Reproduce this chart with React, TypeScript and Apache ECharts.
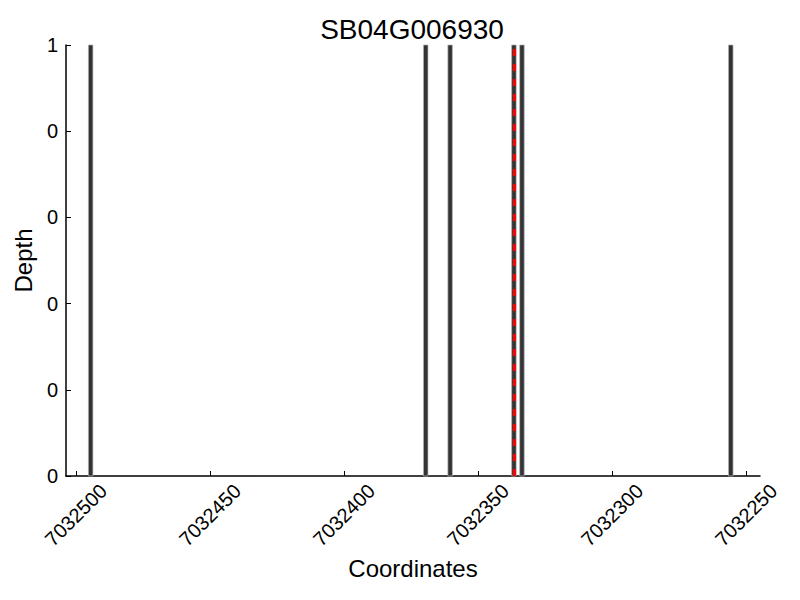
import React, { useEffect, useRef } from "react";
import * as echarts from "echarts";

const title = "SB04G006930";
const coords = [7032494.5, 7032369.5, 7032360.4, 7032336.6, 7032333.6, 7032255.7];
const depths = [1, 1, 1, 1, 1, 1];
const markerPos = 7032336.6;
const xTicks = [7032500, 7032450, 7032400, 7032350, 7032300, 7032250];

export default function App() {
  const ref = useRef<HTMLDivElement>(null);
  useEffect(() => {
    if (!ref.current) return;
    const chart = echarts.init(ref.current, null, { renderer: "svg" });
    const font = "Liberation Sans";
    chart.setOption({
      animation: false,
      backgroundColor: "#fff",
      textStyle: { fontFamily: font },
      title: {
        text: title,
        left: 407,
        top: 10,
        textAlign: "center",
        textStyle: { fontFamily: font, fontSize: 28, fontWeight: "normal", color: "#000" },
      },
      grid: { left: 66, right: 40, top: 45, bottom: 124 },
      xAxis: {
        type: "value",
        inverse: true,
        min: 7032244.8,
        max: 7032503.7,
        name: "Coordinates",
        nameLocation: "middle",
        nameGap: 80,
        nameTextStyle: { fontFamily: font, fontSize: 24, color: "#000" },
        axisLine: { show: true, lineStyle: { color: "#000", width: 1.5 } },
        axisTick: { show: true, inside: true, length: 5, customValues: xTicks, lineStyle: { color: "#000" } },
        axisLabel: {
          customValues: xTicks,
          rotate: 45,
          align: "center",
          verticalAlign: "middle",
          fontFamily: font,
          fontSize: 20,
          color: "#000",
          margin: 39,
          formatter: (v: number) => String(Math.round(v)),
        },
        splitLine: { show: false },
      },
      yAxis: {
        type: "value",
        min: 0,
        max: 1,
        interval: 0.2,
        name: "Depth",
        nameLocation: "middle",
        nameGap: 28,
        nameTextStyle: { fontFamily: font, fontSize: 24, color: "#000" },
        axisLine: { show: true, lineStyle: { color: "#000", width: 1.5 } },
        axisTick: { show: true, inside: true, length: 5, lineStyle: { color: "#000" } },
        axisLabel: {
          fontFamily: font,
          fontSize: 20,
          color: "#000",
          margin: 8,
          formatter: (v: number) => String(Math.floor(v + 1e-9)),
        },
        splitLine: { show: false },
      },
      series: [
        {
          type: "custom",
          data: coords.map((c, i) => [c, depths[i]]),
          encode: { x: 0, y: 1 },
          renderItem: (params: any, api: any) => {
            const top = api.coord([api.value(0), api.value(1)]);
            const base = api.coord([api.value(0), 0]);
            const w = 4.5;
            return {
              type: "rect",
              shape: { x: top[0] - w / 2, y: top[1], width: w, height: base[1] - top[1] },
              style: { fill: "#333333", stroke: "#b0b0b0", lineWidth: 0.7 },
            };
          },
          markLine: {
            symbol: "none",
            silent: true,
            label: { show: false },
            lineStyle: { color: "#ff0000", type: [7, 8], width: 3 },
            data: [{ xAxis: markerPos }],
          },
        },
      ],
    });
    return () => chart.dispose();
  }, []);
  return <div ref={ref} style={{ width: 800, height: 600, position: "absolute", left: 0, top: 0 }} />;
}
